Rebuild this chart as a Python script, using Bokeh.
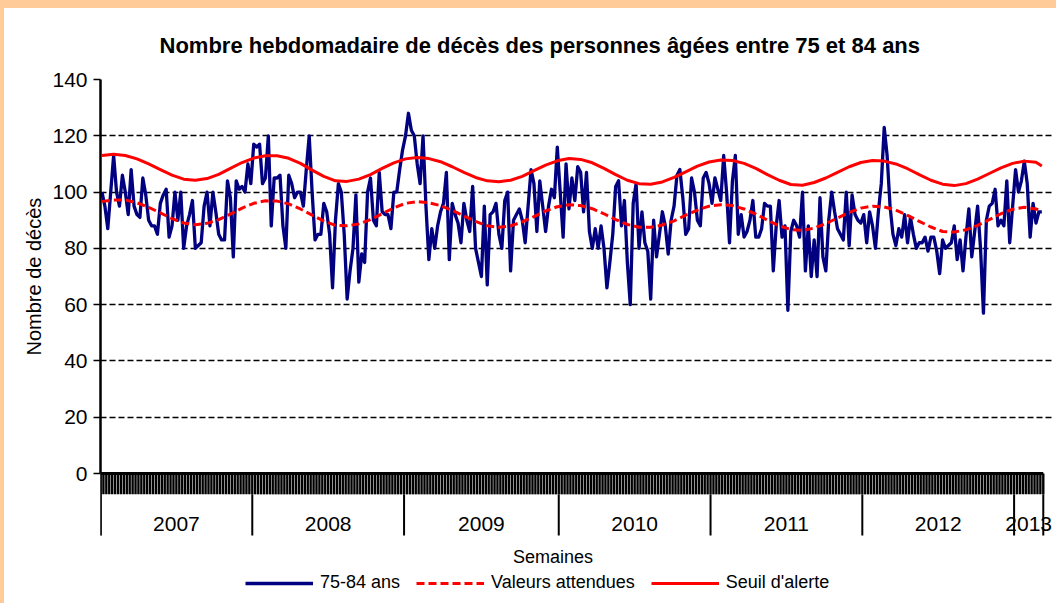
import numpy as np
from bokeh.plotting import figure
from bokeh.models import Range1d, FixedTicker, Legend, LegendItem, Title
from bokeh.core.properties import value
from bokeh.embed import file_html
from bokeh.resources import INLINE

TITLE = "Nombre hebdomadaire de décès des personnes âgées entre 75 et 84 ans"
Y_LABEL = "Nombre de décès"
X_LABEL = "Semaines"
SERIES_NAMES = ["75-84 ans", "Valeurs attendues", "Seuil d'alerte"]

YEARS = ["2007", "2008", "2009", "2010", "2011", "2012", "2013"]
WEEKS_PER_YEAR = [52, 52, 53, 52, 52, 52, 10]
Y_TICKS = [0, 20, 40, 60, 80, 100, 120, 140]

# weekly deaths, 75-84 years
DECES_75_84 = [
    # 2007
    100, 95, 87, 100, 113, 100, 95, 106, 100, 92,
    108, 95, 92, 91, 105, 99, 90, 88, 88, 85,
    96, 99, 101, 84, 88, 100, 90, 100, 80, 88,
    92, 97, 80, 81, 82, 95, 100, 88, 100, 93,
    85, 83, 83, 104, 98, 77, 104, 101, 102, 100,
    110, 103,
    # 2008
    117, 116, 117, 103, 105, 120, 88, 105, 105, 106,
    88, 80, 106, 103, 98, 100, 100, 95, 108, 120,
    100, 83, 85, 85, 96, 93, 85, 66, 90, 103,
    100, 85, 62, 72, 80, 99, 68, 78, 75, 100,
    105, 90, 88, 107, 93, 92, 92, 87, 100, 100,
    108, 115,
    # 2009
    120, 128, 122, 120, 110, 103, 120, 95, 76, 87,
    80, 88, 93, 96, 107, 76, 96, 92, 89, 82,
    96, 90, 86, 102, 80, 75, 70, 95, 67, 92,
    93, 96, 85, 80, 97, 100, 72, 90, 92, 94,
    90, 82, 95, 108, 103, 86, 104, 95, 86, 95,
    101, 98, 116,
    # 2010
    100, 84, 110, 94, 105, 97, 109, 107, 93, 107,
    86, 80, 87, 80, 88, 80, 66, 75, 85, 102,
    104, 88, 97, 75, 60, 96, 103, 80, 93, 82,
    79, 62, 90, 77, 85, 93, 88, 78, 90, 95,
    106, 108, 98, 85, 87, 105, 100, 90, 88, 105,
    107, 103,
    # 2011
    96, 105, 101, 97, 113, 100, 82, 104, 113, 85,
    92, 84, 86, 90, 97, 84, 84, 87, 96, 95,
    95, 72, 88, 97, 84, 88, 58, 86, 90, 88,
    84, 100, 72, 88, 70, 83, 70, 98, 77, 72,
    90, 100, 93, 87, 85, 83, 100, 81, 99, 92,
    90, 89,
    # 2012
    92, 82, 93, 88, 80, 93, 103, 123, 113, 95,
    85, 81, 87, 84, 92, 82, 91, 85, 80, 82,
    82, 84, 79, 84, 84, 79, 71, 83, 80, 81,
    82, 88, 76, 83, 72, 84, 94, 77, 86, 95,
    80, 57, 90, 95, 96, 101, 88, 90, 88, 104,
    82, 95,
    # 2013
    108, 100, 104, 111, 103, 84, 96, 89, 93, 93,
]

# smooth curves, read every 4 weeks (last point = last week)
SAMPLE_WEEKS = list(range(0, 321, 4)) + [322]

VALEURS_ATTENDUES = [
    96.7, 97.2, 97.2, 96.2, 94.6, 92.6, 90.6, 89.0, 88.4, 88.9,
    90.2, 92.2, 94.3, 96.0, 96.9, 96.8, 95.8, 94.0, 91.8, 89.7,
    88.2, 88.0, 88.7, 90.2, 92.3, 94.4, 96.0, 96.6, 96.2, 95.2,
    93.5, 91.5, 89.6, 88.0, 87.5, 88.0, 89.4, 91.3, 93.3, 94.8,
    95.5, 95.2, 94.1, 92.3, 90.2, 88.5, 87.5, 87.5, 88.3, 89.8,
    91.8, 93.6, 95.0, 95.5, 95.2, 94.0, 92.2, 90.0, 88.0, 86.7,
    86.4, 87.2, 88.8, 90.8, 92.8, 94.3, 95.0, 94.7, 93.6, 91.7,
    89.6, 87.6, 86.0, 85.8, 86.6, 88.2, 90.2, 92.3, 93.9, 94.6,
    94.0, 93.3,
]

SEUIL_ALERTE = [
    113.0, 113.4, 113.0, 111.8, 110.0, 108.0, 106.0, 104.6, 104.2, 104.8,
    106.3, 108.4, 110.5, 112.1, 112.9, 112.9, 112.0, 110.2, 107.8, 105.6,
    104.0, 103.8, 104.6, 106.2, 108.4, 110.4, 111.8, 112.3, 111.9, 110.8,
    109.0, 107.0, 105.2, 104.0, 103.7, 104.2, 105.6, 107.6, 109.6, 111.1,
    111.9, 111.6, 110.4, 108.4, 106.2, 104.2, 103.0, 102.8, 103.6, 105.2,
    107.2, 109.2, 110.7, 111.4, 111.2, 110.2, 108.4, 106.2, 104.2, 102.7,
    102.4, 103.4, 105.0, 107.0, 109.0, 110.5, 111.2, 111.0, 110.0, 108.3,
    106.2, 104.2, 102.8, 102.3, 103.0, 104.6, 106.6, 108.6, 110.2, 111.0,
    110.6, 109.3,
]

N = sum(WEEKS_PER_YEAR)
assert len(DECES_75_84) == N
assert len(VALEURS_ATTENDUES) == len(SAMPLE_WEEKS) == len(SEUIL_ALERTE)

FONT = "Liberation Sans"
BLUE = "#000080"
RED = "#FF0000"

x_weeks = np.arange(N) + 0.5
x_samples = np.array(SAMPLE_WEEKS) + 0.5

p = figure(
    width=1052, height=595,
    x_range=Range1d(0, N + 3.5), y_range=Range1d(-44.4, 140),
    output_backend="svg", toolbar_location=None,
    x_axis_location=None,
    min_border_left=96, min_border_right=3, min_border_top=71, min_border_bottom=5,
)
p.outline_line_color = None
p.background_fill_color = "white"
p.border_fill_color = "white"

# title
p.title.text = TITLE
p.title.align = "left"
p.title.offset = 59
p.title.standoff = 43
p.title.text_font = FONT
p.title.text_font_size = "22px"
p.title.text_font_style = "bold"
p.title.text_color = "black"

# y axis
p.yaxis.ticker = FixedTicker(ticks=Y_TICKS)
p.yaxis.bounds = (0, 140)
p.yaxis.axis_line_width = 2.5
p.yaxis.axis_line_color = "black"
p.yaxis.major_tick_out = 7
p.yaxis.major_tick_in = 0
p.yaxis.major_tick_line_width = 1.5
p.yaxis.minor_tick_line_color = None
p.yaxis.major_label_text_font = FONT
p.yaxis.major_label_text_font_size = "21px"
p.yaxis.major_label_text_color = "black"
p.yaxis.major_label_standoff = 6

# y axis title, aligned on the 0-140 part of the axis
p.add_layout(Title(text=Y_LABEL, align="left", offset=243, standoff=9,
                   text_font=FONT, text_font_size="20px", text_font_style="normal",
                   text_color="black"), "left")

p.ygrid.ticker = FixedTicker(ticks=Y_TICKS[1:])
p.ygrid.bounds = (0, N)
p.ygrid.grid_line_color = "black"
p.ygrid.grid_line_dash = "6 3"
p.ygrid.grid_line_width = 1.4
p.xgrid.visible = False

# category axis drawn at y=0: week ticks, year separators and labels
bounds = np.arange(N + 1)
p.segment(x0=bounds, y0=np.zeros(N + 1), x1=bounds, y1=np.full(N + 1, -7.4),
          line_color="black", line_width=2.4)
p.segment(x0=[0], y0=[0], x1=[N], y1=[0], line_color="black", line_width=3)
cum = np.concatenate([[0], np.cumsum(WEEKS_PER_YEAR)])
p.segment(x0=cum, y0=np.full(len(cum), -7.4), x1=cum, y1=np.full(len(cum), -22),
          line_color="black", line_width=2)
p.segment(x0=[0], y0=[0], x1=[0], y1=[-22], line_color="black", line_width=2.5)
centers = (cum[:-1] + cum[1:]) / 2
p.text(x=centers, y=np.full(len(YEARS), -17.8), text=YEARS,
       text_font=value(FONT), text_font_size="21px", text_color="black",
       text_align="center", text_baseline="middle")
p.text(x=[N * 0.48], y=[-29.8], text=[X_LABEL],
       text_font=value(FONT), text_font_size="18px", text_color="black",
       text_align="center", text_baseline="middle")

# series
r_blue = p.line(x_weeks, DECES_75_84, line_color=BLUE, line_width=3.3, line_join="round")
r_att = p.line(x_samples, VALEURS_ATTENDUES, line_color=RED, line_width=3, line_dash="8 4")
r_seuil = p.line(x_samples, SEUIL_ALERTE, line_color=RED, line_width=3)

legend = Legend(
    items=[LegendItem(label=SERIES_NAMES[0], renderers=[r_blue]),
           LegendItem(label=SERIES_NAMES[1], renderers=[r_att]),
           LegendItem(label=SERIES_NAMES[2], renderers=[r_seuil])],
    orientation="horizontal", location=(145, 5),
    glyph_width=68, glyph_height=20, label_standoff=7, spacing=16,
    padding=0, margin=0, border_line_color=None, background_fill_alpha=0,
    label_text_font=FONT, label_text_font_size="18px", label_text_color="black",
)
p.add_layout(legend)

html = file_html(p, INLINE, title="Nombre hebdomadaire de décès")
css = ("<style>"
       "html { background: #ffffff !important; overflow: hidden !important; } "
       "body { padding: 8px 0 0 4px !important; overflow: hidden !important; "
       "background: linear-gradient(#FFCC99, #FFCC99) left top / 100% 8px no-repeat, "
       "linear-gradient(#FFCC99, #FFCC99) left top / 4px 100% no-repeat, #ffffff !important; }"
       "</style>")
html = html.replace("</head>", css + "\n</head>", 1)
open("out.html", "w").write(html)
